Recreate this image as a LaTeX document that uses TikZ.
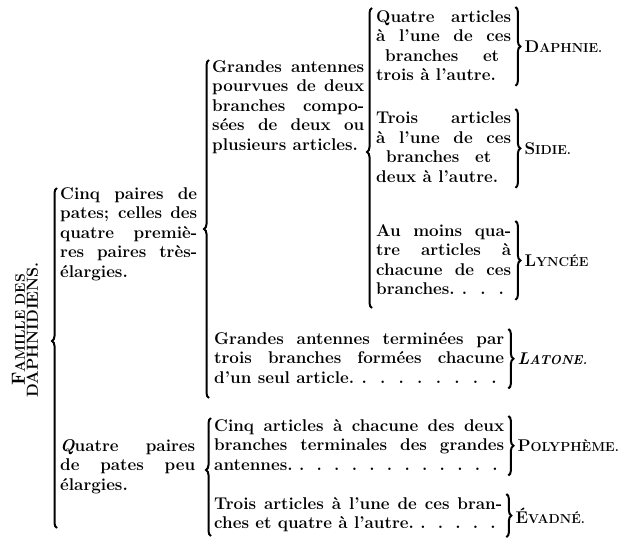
\documentclass[tikz,border=0pt]{standalone}
\usetikzlibrary{decorations.pathreplacing}
\newcommand\pc[2]{{\fontsize{17}{17}\selectfont #1}{\fontsize{13}{13}\selectfont #2}}
\newcommand\pts{\xleaders\hbox to 17pt{\hss.\hss}\hskip 0pt plus 1filll\kern0pt}
\hyphenpenalty=10000
\tolerance=9999
\tikzset{
  txt/.style={anchor=north west, inner sep=0pt, text width=#1, align=justify, font=\fontsize{17}{19.5}\selectfont\bfseries},
  nom/.style={anchor=west, inner sep=0pt, font=\bfseries},
  brc/.style={decorate, decoration={brace, amplitude=5pt, aspect=#1}, line width=2pt},
  brc/.default=0.5,
}
\begin{document}
\begin{tikzpicture}[x=1pt, y=-1pt]
\useasboundingbox (0,0) rectangle (628,540);
% titre
\node[rotate=90, align=center, inner sep=0pt, font=\bfseries] (fam) at (25,330) {{\fontsize{19}{19}\selectfont F}{\fontsize{14}{14}\selectfont AMILLE DES}\\[1pt]{\fontsize{16}{16}\selectfont DAPHNIDIENS.}};
% pates
\node[txt=137pt] (cinq) at (60,187) {Cinq paires de\linebreak pates; celles des\linebreak quatre premiè-\linebreak res paires très-\linebreak élargies.};
\node[txt=135pt] (quatre) at (60,439) {{\itshape Q}uatre paires\linebreak de pates peu\linebreak élargies.};
% antennes
\node[txt=152pt] (pourvues) at (212,60) {Grandes antennes\linebreak pourvues de deux\linebreak branches compo-\linebreak sées de deux ou\linebreak plusieurs articles.};
\node[txt=290pt] (terminees) at (214,332) {Grandes antennes terminées par\linebreak trois branches formées chacune\linebreak d'un seul article.\pts};
\node[txt=290pt] (cinqart) at (214,419) {Cinq articles à chacune des deux\linebreak branches terminales des grandes\linebreak antennes.\pts};
\node[txt=288pt] (troisart) at (214,497) {Trois articles à l'une de ces bran-\linebreak ches et quatre à l'autre.\pts};
% articles
\node[txt=135pt] (daph) at (376,10) {Quatre articles\linebreak à l'une de ces\linebreak \hspace*{9pt}branches\hfill et\hspace*{12pt}\linebreak trois à l'autre.};
\node[txt=135pt] (sidi) at (376,112) {Trois articles\linebreak à l'une de ces\linebreak \hspace*{10pt}branches\hfill et\hspace*{20pt}\linebreak deux à l'autre.};
\node[txt=135pt] (lync) at (376,224) {Au moins qua-\linebreak tre articles à\linebreak chacune de ces\linebreak branches.\pts};
% accolades ouvrantes
\coordinate (b1) at (57,528); \coordinate (t1) at (57,188);
\coordinate (b2) at (209,398); \coordinate (t2) at (209,60);
\coordinate (b3) at (372,308); \coordinate (t3) at (372,8);
\coordinate (b4) at (211,536); \coordinate (t4) at (211,418);
\draw[brc=0.55] (b1) -- (t1);
\draw[brc=0.5] (b2) -- (t2);
\draw[brc=0.52] (b3) -- (t3);
\draw[brc=0.56] (b4) -- (t4);
% accolades fermantes et genres
\foreach \t/\n in {daph/{\pc{D}{APHNIE.}}, sidi/{\pc{S}{IDIE.}}, lync/{\pc{L}{YNCÉE}}, terminees/{\itshape\pc{L}{ATONE.}}, cinqart/{\pc{P}{OLYPHÈME.}}, troisart/{\pc{É}{VADNÉ.}}}{
  \draw[brc] ([xshift=4pt, yshift=3pt]\t.north east) -- ([xshift=4pt, yshift=-5pt]\t.south east);
  \node[nom] (g-\t) at ([xshift=13pt, yshift=-1pt]\t.east) {\n};
}
\end{tikzpicture}
\end{document}
